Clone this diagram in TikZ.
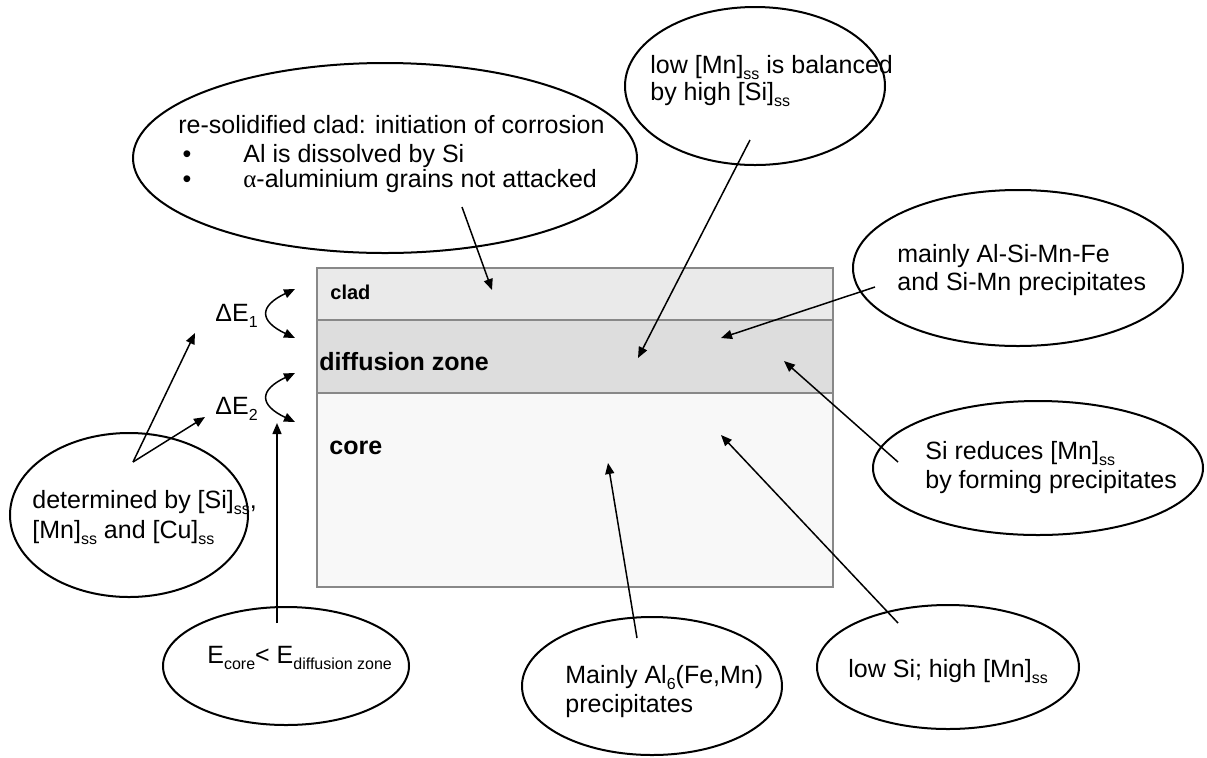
\documentclass[tikz,border=0pt]{standalone}
\usepackage{fontspec}
\setmainfont{Liberation Sans}
\newfontfamily\greekfont{Liberation Serif}
\usetikzlibrary{arrows.meta,shapes.geometric}
\definecolor{cladgray}{HTML}{EAEAEA}
\definecolor{diffgray}{HTML}{DDDDDD}
\definecolor{coregray}{HTML}{F8F8F8}
\definecolor{framegray}{HTML}{888888}
\newcommand*\lo[1]{\raisebox{-3pt}{\fontsize{8}{8}\selectfont #1}}

\begin{document}
\begin{tikzpicture}[x=0.5pt,y=-0.5pt,
  every node/.style={font=\fontsize{12.5}{14.5}\selectfont, inner sep=0pt},
  bubble/.style={draw, ellipse, line width=1pt},
  note/.style={anchor=base west, align=left},
  layer/.style={anchor=base west, font=\bfseries\fontsize{12.5}{14.5}\selectfont},
  pointer/.style={-{Triangle[length=5.5pt,width=4.5pt]}, line width=0.75pt},
  swing/.style={{Triangle[length=5.5pt,width=4.5pt]}-{Triangle[length=5.5pt,width=4.5pt]}, line width=0.75pt}]
  \useasboundingbox (0,0) rectangle (1207,757);

  % the three layers of the brazed sheet
  \fill[cladgray] (317,268) rectangle (833,320);
  \fill[diffgray] (317,320) rectangle (833,393);
  \fill[coregray] (317,393) rectangle (833,587);
  \draw[framegray, line width=1pt] (317,268) rectangle (833,587)
    (317,320) -- (833,320) (317,393) -- (833,393);
  \node[layer, font=\bfseries\fontsize{10}{12}\selectfont] (clad) at (330,299) {clad};
  \node[layer] (diff) at (319,370) {diffusion zone};
  \node[layer] (core) at (329,454) {core};

  % callouts (text placed by the baseline of its last line)
  \node[bubble, minimum width=252pt, minimum height=95pt] (resol) at (385,158) {};
  \node[note] (resoltxt) at (178,187) {re-solidified clad: initiation of corrosion\\
    \makebox[32.5pt][l]{\,•}Al is dissolved by Si\\[-2pt]
    \makebox[32.5pt][l]{\,•}{\greekfont α}-aluminium grains not attacked};
  \node[bubble, minimum width=130pt, minimum height=79pt] (lowmn) at (755,86) {};
  \node[note, font=\fontsize{12.5}{11}\selectfont] (lowmntxt) at (650,100)
    {low [Mn]\lo{ss} is balanced\\by high [Si]\lo{ss}};
  \node[bubble, minimum width=165pt, minimum height=78pt] (almn) at (1018,268) {};
  \node[note, font=\fontsize{12.5}{14}\selectfont] (almntxt) at (897,290)
    {mainly Al-Si-Mn-Fe\\and Si-Mn precipitates};
  \node[bubble, minimum width=165pt, minimum height=67pt] (sired) at (1038,468) {};
  \node[note] (siredtxt) at (925,488) {Si reduces [Mn]\lo{ss}\\by forming precipitates};
  \node[bubble, minimum width=131pt, minimum height=62pt] (lowsi) at (948,667) {};
  \node[note] (lowsitxt) at (848,677) {low Si; high [Mn]\lo{ss}};
  \node[bubble, minimum width=130pt, minimum height=69pt] (alfe) at (652,686) {};
  \node[note] (alfetxt) at (565,712) {Mainly Al\lo{6}(Fe,Mn)\\precipitates};
  \node[bubble, minimum width=123pt, minimum height=59pt] (ecore) at (286,666) {};
  \node[note] (ecoretxt) at (207,663) {E\lo{core}< E\lo{diffusion zone}};
  \node[bubble, minimum width=119pt, minimum height=82pt] (detby) at (129,515) {};
  \node[note, font=\fontsize{12.5}{15}\selectfont] (detbytxt) at (32,538)
    {determined by [Si]\lo{ss},\\\relax[Mn]\lo{ss} and [Cu]\lo{ss}};

  % potential differences
  \node[note] (de1) at (215,321) {ΔE\lo{1}};
  \node[note] (de2) at (215,414) {ΔE\lo{2}};
  \coordinate (de1a) at (295,289);
  \coordinate (de1b) at (295,338);
  \coordinate (de2a) at (295,373);
  \coordinate (de2b) at (295,422);
  \draw[swing] (de1a) .. controls (259,306) and (259,321) .. (de1b);
  \draw[swing] (de2a) .. controls (259,390) and (259,405) .. (de2b);

  % pointers
  \coordinate (resolfrom) at (462,207);
  \coordinate (cladto) at (492,290);
  \coordinate (lowmnfrom) at (750,140);
  \coordinate (diffto1) at (638,358);
  \coordinate (almnfrom) at (875,287);
  \coordinate (diffto2) at (721,338);
  \coordinate (siredfrom) at (898,462);
  \coordinate (diffto3) at (784,361);
  \coordinate (lowsifrom) at (898,623);
  \coordinate (coreto1) at (721,435);
  \coordinate (alfefrom) at (637,638);
  \coordinate (coreto2) at (608,463);
  \coordinate (ecorefrom) at (277,623);
  \coordinate (de2below) at (277,423);
  \coordinate (detbyfrom) at (133,462);
  \coordinate (de1left) at (195,333);
  \coordinate (de2left) at (205,417);
  \draw[pointer] (resolfrom) -- (cladto);
  \draw[pointer] (lowmnfrom) -- (diffto1);
  \draw[pointer] (almnfrom) -- (diffto2);
  \draw[pointer] (siredfrom) -- (diffto3);
  \draw[pointer] (lowsifrom) -- (coreto1);
  \draw[pointer] (alfefrom) -- (coreto2);
  \draw[pointer] (ecorefrom) -- (de2below);
  \draw[pointer] (detbyfrom) -- (de1left);
  \draw[pointer] (detbyfrom) -- (de2left);
\end{tikzpicture}
\end{document}
